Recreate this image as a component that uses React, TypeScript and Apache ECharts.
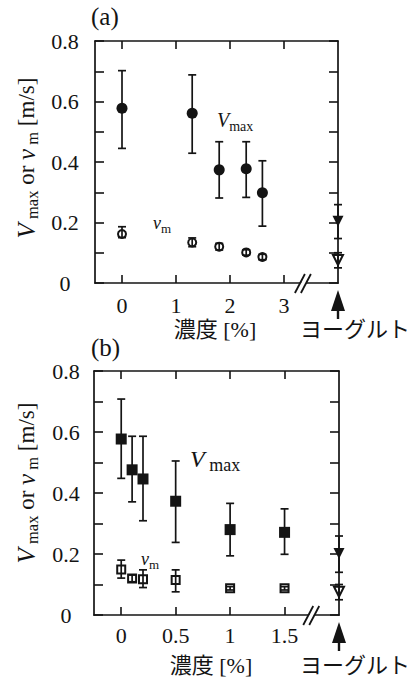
import React, { useEffect, useRef } from "react";
import * as echarts from "echarts";

// ---------- Panel (a) ----------
const concA = [0, 1.3, 1.8, 2.3, 2.6];
const vmaxA = [0.578, 0.561, 0.374, 0.378, 0.298];
const vmaxLoA = [0.445, 0.429, 0.281, 0.283, 0.188];
const vmaxHiA = [0.702, 0.688, 0.467, 0.467, 0.404];
const vmA = [0.162, 0.134, 0.12, 0.101, 0.086];
const vmLoA = [0.15, 0.12, 0.109, 0.092, 0.077];
const vmHiA = [0.186, 0.149, 0.131, 0.11, 0.095];
const xRangeA = [-0.5, 4];
const xTicksA = [0, 1, 2, 3];

// ---------- Panel (b) ----------
const concB = [0, 0.1, 0.2, 0.5, 1.0, 1.5];
const vmaxB = [0.577, 0.476, 0.446, 0.373, 0.28, 0.271];
const vmaxLoB = [0.448, 0.371, 0.309, 0.238, 0.194, 0.199];
const vmaxHiB = [0.708, 0.586, 0.586, 0.505, 0.366, 0.348];
const vmB = [0.149, 0.12, 0.117, 0.115, 0.0875, 0.0875];
const vmLoB = [0.121, 0.109, 0.09, 0.076, 0.082, 0.082];
const vmHiB = [0.18, 0.131, 0.148, 0.148, 0.093, 0.093];
const xRangeB = [-0.25, 2];
const xTicksB = [0, 0.5, 1, 1.5];

// ---------- Yogurt (plotted at the right end of each axis) ----------
const yogurtPos = [4, 2]; // x position in panel (a), (b)
const yogurtVmax = [0.204, 0.202];
const yogurtVmaxLo = [0.147, 0.14];
const yogurtVmaxHi = [0.259, 0.259];
const yogurtVm = [0.076, 0.076];
const yogurtVmLo = [0.05, 0.05];
const yogurtVmHi = [0.1, 0.1];
const breakPos = [3.35, 1.745];

// ---------- axis ----------
const yRange = [0, 0.8];
const yTickLabels = [0, 0.2, 0.4, 0.6, 0.8];

const SERIF = "Liberation Serif, Noto Sans CJK JP, serif";
const JP = "Liberation Serif, Noto Sans CJK JP, serif";
const INK = "#141414";

function errSeries(xi: number, yi: number, xs: number[], lo: number[], hi: number[]) {
  return {
    type: "custom",
    xAxisIndex: xi,
    yAxisIndex: yi,
    clip: false,
    silent: true,
    z: 2,
    data: xs.map((x, i) => [x, lo[i], hi[i]]),
    encode: { x: 0, y: [1, 2] },
    renderItem: (_p: any, api: any) => {
      const x = api.value(0);
      const a = api.coord([x, api.value(1)]);
      const b = api.coord([x, api.value(2)]);
      const w = 4;
      const st = { stroke: INK, lineWidth: 1.7 };
      return {
        type: "group",
        children: [
          { type: "line", shape: { x1: a[0], y1: a[1], x2: b[0], y2: b[1] }, style: st },
          { type: "line", shape: { x1: a[0] - w, y1: a[1], x2: a[0] + w, y2: a[1] }, style: st },
          { type: "line", shape: { x1: b[0] - w, y1: b[1], x2: b[0] + w, y2: b[1] }, style: st },
        ],
      };
    },
  };
}

function pts(xs: number[], ys: number[]) {
  return xs.map((x, i) => [x, ys[i]]);
}

function filled(xi: number, yi: number, data: number[][], symbol: string, size: number, rot = 0) {
  return {
    type: "scatter",
    xAxisIndex: xi,
    yAxisIndex: yi,
    clip: false,
    silent: true,
    z: 3,
    symbol,
    symbolSize: size,
    symbolRotate: rot,
    itemStyle: { color: INK, opacity: 1 },
    data,
  };
}

function open(xi: number, yi: number, data: number[][], symbol: string, size: number, rot = 0) {
  return {
    type: "scatter",
    xAxisIndex: xi,
    yAxisIndex: yi,
    clip: false,
    silent: true,
    z: 3,
    symbol,
    symbolSize: size,
    symbolRotate: rot,
    itemStyle: { color: "rgba(255,255,255,0)", borderColor: INK, borderWidth: 2, opacity: 1 },
    data,
  };
}

const axLine = { show: true, onZero: false, lineStyle: { color: INK, width: 1.7 } };

function xAxes(grid: number, range: number[], ticks: number[], labelMargin: number) {
  return [
    {
      type: "value",
      gridIndex: grid,
      position: "bottom",
      min: range[0],
      max: range[1],
      axisLine: axLine,
      axisTick: { show: true, inside: true, length: 8, lineStyle: { color: INK, width: 1.6 }, customValues: ticks },
      axisLabel: {
        show: true,
        customValues: ticks,
        margin: labelMargin,
        color: INK,
        fontFamily: SERIF,
        fontSize: 22,
        formatter: (v: number) => String(v),
      },
      splitLine: { show: false },
    },
    {
      type: "value",
      gridIndex: grid,
      position: "top",
      min: range[0],
      max: range[1],
      axisLine: axLine,
      axisTick: { show: true, inside: true, length: 8, lineStyle: { color: INK, width: 1.6 }, customValues: ticks },
      axisLabel: { show: false },
      splitLine: { show: false },
    },
  ];
}

function yAxes(grid: number, labelMargin: number) {
  const tick = { show: true, inside: true, length: 9, lineStyle: { color: INK, width: 1.6 } };
  return [
    {
      type: "value",
      gridIndex: grid,
      position: "left",
      min: yRange[0],
      max: yRange[1],
      interval: 0.1,
      axisLine: axLine,
      axisTick: tick,
      axisLabel: {
        show: true,
        customValues: yTickLabels,
        align: "center",
        margin: labelMargin,
        color: INK,
        fontFamily: SERIF,
        fontSize: 22,
        formatter: (v: number) => (v === 0 ? "0" : v.toFixed(1)),
      },
      splitLine: { show: false },
    },
    {
      type: "value",
      gridIndex: grid,
      position: "right",
      min: yRange[0],
      max: yRange[1],
      interval: 0.1,
      axisLine: axLine,
      axisTick: tick,
      axisLabel: { show: false },
      splitLine: { show: false },
    },
  ];
}

function yTitle(cx: number, cy: number) {
  return {
    type: "text",
    x: cx,
    y: cy,
    rotation: Math.PI / 2,
    silent: true,
    style: {
      text: "{V|V}{s| max}{n| or }{V|v}{s| m}{n| [m/s]}",
      align: "center",
      verticalAlign: "middle",
      fill: INK,
      rich: {
        V: { fontFamily: SERIF, fontStyle: "italic", fontSize: 25, lineHeight: 30, fill: INK },
        s: { fontFamily: SERIF, fontSize: 16.5, lineHeight: 15, verticalAlign: "bottom", fill: INK },
        n: { fontFamily: SERIF, fontSize: 23, lineHeight: 30, fill: INK },
      },
    },
  };
}

function subLabel(x: number, y: number, main: string, sub: string, mainSize: number, subSize: number) {
  return {
    type: "text",
    x,
    y,
    silent: true,
    style: {
      text: `{V|${main}}{s|${sub}}`,
      align: "left",
      verticalAlign: "middle",
      fill: INK,
      rich: {
        V: { fontFamily: SERIF, fontStyle: "italic", fontSize: mainSize, lineHeight: mainSize + 6, fill: INK },
        s: { fontFamily: SERIF, fontSize: subSize, lineHeight: subSize, verticalAlign: "bottom", fill: INK },
      },
    },
  };
}

function plainText(x: number, y: number, text: string, size: number, align: string, font = SERIF) {
  return {
    type: "text",
    x,
    y,
    silent: true,
    style: { text, fontFamily: font, fontSize: size, fill: INK, align, verticalAlign: "middle" },
  };
}

export default function App() {
  const ref = useRef<HTMLDivElement>(null);
  useEffect(() => {
    if (!ref.current) return;
    const chart = echarts.init(ref.current, null, { renderer: "svg" });
    const option: any = {
      animation: false,
      backgroundColor: "#ffffff",
      grid: [
        { left: 95, top: 41, width: 243, height: 242 },
        { left: 94, top: 371, width: 245, height: 244 },
      ],
      xAxis: [...xAxes(0, xRangeA, xTicksA, 11), ...xAxes(1, xRangeB, xTicksB, 9)],
      yAxis: [...yAxes(0, 30), ...yAxes(1, 28)],
      series: [
        // panel (a)
        errSeries(0, 0, concA, vmaxLoA, vmaxHiA),
        errSeries(0, 0, concA, vmLoA, vmHiA),
        errSeries(0, 0, [yogurtPos[0]], [yogurtVmaxLo[0]], [yogurtVmaxHi[0]]),
        errSeries(0, 0, [yogurtPos[0]], [yogurtVmLo[0]], [yogurtVmHi[0]]),
        filled(0, 0, pts(concA, vmaxA), "circle", 11),
        open(0, 0, pts(concA, vmA), "circle", 8),
        filled(0, 0, [[yogurtPos[0], yogurtVmax[0]]], "triangle", 11, 180),
        open(0, 0, [[yogurtPos[0], yogurtVm[0]]], "triangle", 10, 180),
        // panel (b)
        errSeries(2, 2, concB, vmaxLoB, vmaxHiB),
        errSeries(2, 2, concB, vmLoB, vmHiB),
        errSeries(2, 2, [yogurtPos[1]], [yogurtVmaxLo[1]], [yogurtVmaxHi[1]]),
        errSeries(2, 2, [yogurtPos[1]], [yogurtVmLo[1]], [yogurtVmHi[1]]),
        filled(2, 2, pts(concB, vmaxB), "rect", 11),
        open(2, 2, pts(concB, vmB), "rect", 8),
        filled(2, 2, [[yogurtPos[1], yogurtVmax[1]]], "triangle", 11, 180),
        open(2, 2, [[yogurtPos[1], yogurtVm[1]]], "triangle", 10, 180),
      ],
    };
    chart.setOption(option);

    const graphics: any[] = [];
    const panels = [
      { xi: 0, yi: 0, label: "(a)", labelY: 16, jpY: 329, xtX: 215 },
      { xi: 2, yi: 2, label: "(b)", labelY: 347, jpY: 665, xtX: 211 },
    ];
    panels.forEach((p, k) => {
      const yog = chart.convertToPixel({ xAxisIndex: p.xi, yAxisIndex: p.yi }, [yogurtPos[k], 0]) as number[];
      const brk = chart.convertToPixel({ xAxisIndex: p.xi, yAxisIndex: p.yi }, [breakPos[k], 0]) as number[];
      // axis break "//"
      graphics.push({
        type: "polygon",
        silent: true,
        shape: { points: [[brk[0] - 6, brk[1] + 4], [brk[0] + 2, brk[1] - 4], [brk[0] + 7, brk[1] - 4], [brk[0] - 1, brk[1] + 4]] },
        style: { fill: "#fff", stroke: "none" },
        z: 10,
      });
      [-3, 3].forEach((d) => {
        graphics.push({
          type: "line",
          silent: true,
          shape: { x1: brk[0] + d - 5, y1: brk[1] + 10, x2: brk[0] + d + 5, y2: brk[1] - 9 },
          style: { stroke: INK, lineWidth: 1.8 },
          z: 11,
        });
      });
      // arrow pointing at yogurt
      graphics.push({
        type: "polygon",
        silent: true,
        shape: { points: [[yog[0], yog[1] + 7], [yog[0] - 7, yog[1] + 28], [yog[0] + 7, yog[1] + 28]] },
        style: { fill: INK },
        z: 10,
      });
      graphics.push({
        type: "line",
        silent: true,
        shape: { x1: yog[0], y1: yog[1] + 26, x2: yog[0], y2: yog[1] + 36 },
        style: { stroke: INK, lineWidth: 2.4 },
        z: 10,
      });
      graphics.push(plainText(300, p.jpY, "ヨーグルト", 22, "left", JP));
      graphics.push(plainText(p.xtX, p.jpY, "濃度 [%]", 22, "center", JP));
      graphics.push(plainText(91, p.labelY, p.label, 25, "left"));
    });
    graphics.push(yTitle(26, 158));
    graphics.push(yTitle(26, 483));
    graphics.push(subLabel(217, 120, "V", "max", 20, 14));
    graphics.push(subLabel(153, 223, "v", "m", 18, 13));
    graphics.push(subLabel(190, 459, "V", " max", 24, 18));
    graphics.push(subLabel(141, 559, "v", "m", 18, 13));

    chart.setOption({ graphic: graphics });
    return () => chart.dispose();
  }, []);
  return (
    <div
      ref={ref}
      style={{ position: "absolute", left: 0, top: 0, width: 419, height: 681, background: "#fff" }}
    />
  );
}
